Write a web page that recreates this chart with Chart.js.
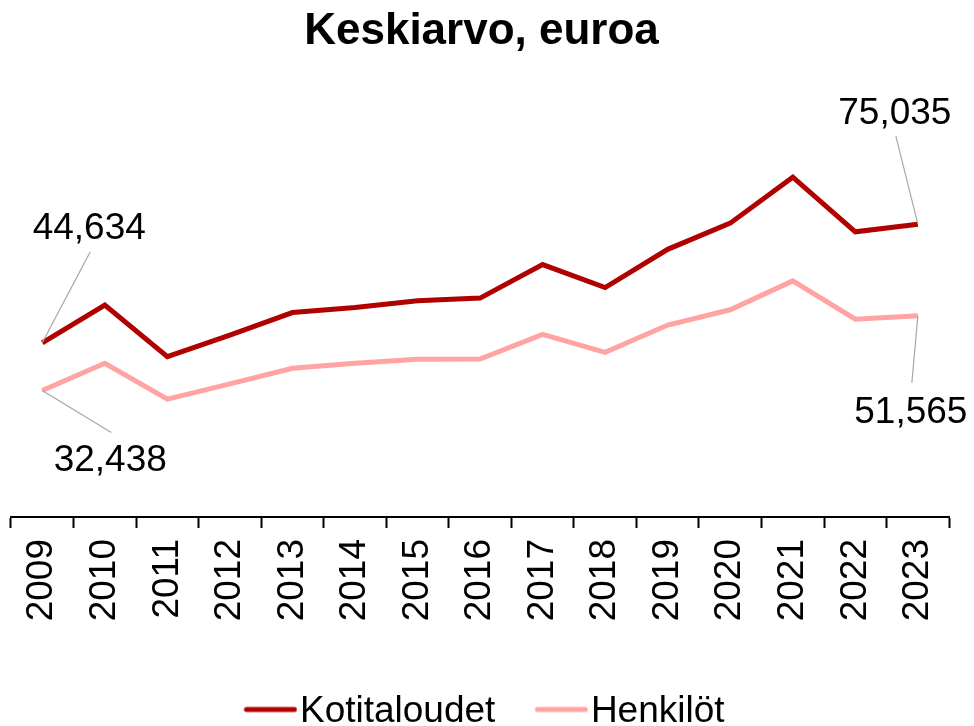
<!DOCTYPE html>
<html>
<head>
<meta charset="utf-8">
<script src="https://cdn.jsdelivr.net/npm/chart.js@4"></script>
<style>
    html, body { margin: 0; padding: 0; background: #ffffff; }
    #wrap { width: 974px; height: 726px; }
</style>
</head>
<body>
<div id="wrap"><canvas id="lineChart" width="974" height="726"></canvas></div>
<script>
const years = ["2009", "2010", "2011", "2012", "2013", "2014", "2015", "2016",
    "2017", "2018", "2019", "2020", "2021", "2022", "2023"];
const kotitaloudet = [44634, 54300, 41100, 46600, 52400, 53700, 55400, 56100,
    64700, 58800, 68600, 75300, 87100, 73100, 75035];
const henkilot = [32438, 39400, 30200, 34100, 38100, 39400, 40400, 40500,
    46800, 42200, 49200, 53100, 60500, 50700, 51565];
const yRange = [0, 100000];

const fontFamily = "'Liberation Sans', Arial, sans-serif";
const palette = {
    dark: "#b00000",
    light: "#ffa3a3",
    text: "#000000",
    leader: "#a6a6a6",
};

// first and last values get a label with a short grey leader line
const callouts = [
    { ds: 0, idx: 0, tx: 47, ty: -104, lx: 48, ly: -91 },
    { ds: 1, idx: 0, tx: 68, ty: 81, lx: 69, ly: 42 },
    { ds: 0, idx: 14, tx: -23, ty: -100, lx: -22, ly: -88 },
    { ds: 1, idx: 14, tx: -7, ty: 107, lx: -6, ly: 67 },
];

// legend sample: line sits in the right part of the image so it ends next to the text
function legendLine(color) {
    const c = document.createElement("canvas");
    c.width = 75;
    c.height = 12;
    const g = c.getContext("2d");
    g.strokeStyle = color;
    g.lineWidth = 5;
    g.lineCap = "round";
    g.beginPath();
    g.moveTo(24, 4);
    g.lineTo(72, 4);
    g.stroke();
    return c;
}

const calloutPlugin = {
    id: "callouts",
    afterDatasetsDraw(chart) {
        const ctx = chart.ctx;
        ctx.save();
        callouts.forEach((c) => {
            const pt = chart.getDatasetMeta(c.ds).data[c.idx];
            const value = chart.data.datasets[c.ds].data[c.idx];
            ctx.strokeStyle = palette.leader;
            ctx.lineWidth = 1.2;
            ctx.beginPath();
            ctx.moveTo(pt.x, pt.y);
            ctx.lineTo(pt.x + c.lx, pt.y + c.ly);
            ctx.stroke();
            ctx.fillStyle = palette.text;
            ctx.font = "37px " + fontFamily;
            ctx.textAlign = "center";
            ctx.textBaseline = "alphabetic";
            ctx.fillText(value.toLocaleString("en-US"), pt.x + c.tx, pt.y + c.ty);
        });
        ctx.restore();
    },
};

const lineCtx = document.getElementById("lineChart").getContext("2d");
new Chart(lineCtx, {
    type: "line",
    data: {
        labels: years,
        datasets: [
            {
                label: "Kotitaloudet",
                data: kotitaloudet,
                borderColor: palette.dark,
                backgroundColor: palette.dark,
                borderWidth: 5,
                pointRadius: 0,
                pointStyle: legendLine(palette.dark),
                tension: 0,
            },
            {
                label: "Henkilöt",
                data: henkilot,
                borderColor: palette.light,
                backgroundColor: palette.light,
                borderWidth: 5,
                pointRadius: 0,
                pointStyle: legendLine(palette.light),
                tension: 0,
            },
        ],
    },
    options: {
        responsive: false,
        animation: false,
        layout: {
            padding: { left: 11, right: 22, top: 0, bottom: -14 },
        },
        plugins: {
            title: {
                display: true,
                text: "Keskiarvo, euroa",
                color: palette.text,
                font: { family: fontFamily, size: 44, weight: "bold" },
                padding: { top: 5, bottom: 69 },
            },
            legend: {
                position: "bottom",
                labels: {
                    color: palette.text,
                    font: { family: fontFamily, size: 37 },
                    usePointStyle: true,
                    pointStyleWidth: 43,
                    padding: 34,
                },
            },
            tooltip: { enabled: false },
        },
        scales: {
            x: {
                offset: true,
                afterFit(scale) {
                    scale.height = 142;
                },
                ticks: {
                    color: palette.text,
                    font: { family: fontFamily, size: 37 },
                    minRotation: 90,
                    maxRotation: 90,
                    autoSkip: false,
                    padding: 11,
                },
                grid: {
                    offset: true,
                    drawOnChartArea: false,
                    drawTicks: true,
                    tickLength: 11,
                    tickWidth: 2,
                    tickColor: palette.text,
                },
                border: { display: true, color: palette.text, width: 2 },
            },
            y: {
                display: false,
                min: yRange[0],
                max: yRange[1],
            },
        },
    },
    plugins: [calloutPlugin],
});
</script>
</body>
</html>
